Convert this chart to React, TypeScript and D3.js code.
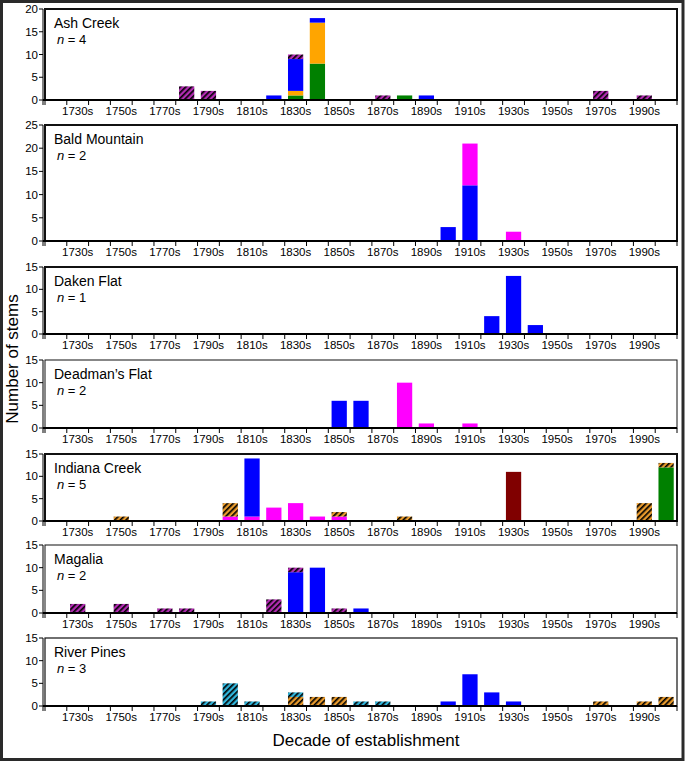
import React from "react";
import * as d3 from "d3";

// ---------- categories & tick labels ----------
const decades = [
  "1720s", "1730s", "1740s", "1750s", "1760s", "1770s", "1780s", "1790s",
  "1800s", "1810s", "1820s", "1830s", "1840s", "1850s", "1860s", "1870s",
  "1880s", "1890s", "1900s", "1910s", "1920s", "1930s", "1940s", "1950s",
  "1960s", "1970s", "1980s", "1990s", "2000s",
];
const xTickLabels = [
  "1730s", "1750s", "1770s", "1790s", "1810s", "1830s", "1850s",
  "1870s", "1890s", "1910s", "1930s", "1950s", "1970s", "1990s",
];

type Pair = [string, number];

// ---------- Ash Creek ----------
const ashGreen: Pair[] = [["1830s", 1], ["1840s", 8], ["1880s", 1]];
const ashOrange: Pair[] = [["1830s", 1], ["1840s", 9]];
const ashBlue: Pair[] = [["1820s", 1], ["1830s", 7], ["1840s", 1], ["1890s", 1]];
const ashPurpleHatch: Pair[] = [
  ["1780s", 3], ["1790s", 2], ["1830s", 1], ["1870s", 1], ["1970s", 2], ["1990s", 1],
];

// ---------- Bald Mountain ----------
const baldBlue: Pair[] = [["1900s", 3], ["1910s", 12]];
const baldMagenta: Pair[] = [["1910s", 9], ["1930s", 2]];

// ---------- Daken Flat ----------
const dakenBlue: Pair[] = [["1920s", 4], ["1930s", 13], ["1940s", 2]];

// ---------- Deadman's Flat ----------
const deadBlue: Pair[] = [["1850s", 6], ["1860s", 6]];
const deadMagenta: Pair[] = [["1880s", 10], ["1890s", 1], ["1910s", 1]];

// ---------- Indiana Creek ----------
const indGreen: Pair[] = [["2000s", 12]];
const indMagenta: Pair[] = [
  ["1800s", 1], ["1810s", 1], ["1820s", 3], ["1830s", 4], ["1840s", 1], ["1850s", 1],
];
const indBlue: Pair[] = [["1810s", 13]];
const indDarkRed: Pair[] = [["1930s", 11]];
const indOrangeHatch: Pair[] = [
  ["1750s", 1], ["1800s", 3], ["1850s", 1], ["1880s", 1], ["1990s", 4], ["2000s", 1],
];

// ---------- Magalia ----------
const magBlue: Pair[] = [["1830s", 9], ["1840s", 10], ["1860s", 1]];
const magPurpleHatch: Pair[] = [
  ["1730s", 2], ["1750s", 2], ["1770s", 1], ["1780s", 1], ["1820s", 3], ["1830s", 1], ["1850s", 1],
];

// ---------- River Pines ----------
const rpOrangeHatch: Pair[] = [
  ["1830s", 2], ["1840s", 2], ["1850s", 2], ["1970s", 1], ["1990s", 1], ["2000s", 2],
];
const rpCyanHatch: Pair[] = [
  ["1790s", 1], ["1800s", 5], ["1810s", 1], ["1830s", 1], ["1860s", 1], ["1870s", 1],
];
const rpBlue: Pair[] = [["1900s", 1], ["1910s", 7], ["1920s", 3], ["1930s", 1]];

// ---------- panels (name, n, y max, stacking order) ----------
const panelNames = ["Ash Creek", "Bald Mountain", "Daken Flat", "Deadman\u2019s Flat", "Indiana Creek", "Magalia", "River Pines"];
const panelN = [4, 2, 1, 2, 5, 2, 3];
const panelYMax = [20, 25, 15, 15, 15, 15, 15];
const panelSeries: { key: string; data: Pair[] }[][] = [
  [
    { key: "green", data: ashGreen },
    { key: "orange", data: ashOrange },
    { key: "blue", data: ashBlue },
    { key: "purpleHatch", data: ashPurpleHatch },
  ],
  [
    { key: "blue", data: baldBlue },
    { key: "magenta", data: baldMagenta },
  ],
  [{ key: "blue", data: dakenBlue }],
  [
    { key: "blue", data: deadBlue },
    { key: "magenta", data: deadMagenta },
  ],
  [
    { key: "green", data: indGreen },
    { key: "magenta", data: indMagenta },
    { key: "blue", data: indBlue },
    { key: "darkRed", data: indDarkRed },
    { key: "orangeHatch", data: indOrangeHatch },
  ],
  [
    { key: "blue", data: magBlue },
    { key: "purpleHatch", data: magPurpleHatch },
  ],
  [
    { key: "orangeHatch", data: rpOrangeHatch },
    { key: "cyanHatch", data: rpCyanHatch },
    { key: "blue", data: rpBlue },
  ],
];

// ---------- layout & styles ----------
const W = 685;
const H = 764;
const plotLeft = 45;
const plotRight = 677;
const panelTops = [9, 125, 267, 360, 454, 545, 638];
const panelBottoms = [100, 241, 334, 428, 521, 613, 706];
const panelStroke = [2, 2, 2, 1, 2, 1, 1.2];

const fills: Record<string, string> = {
  blue: "#0000FF",
  magenta: "#FF00FF",
  orange: "#FFA500",
  green: "#008000",
  darkRed: "#800000",
  purpleHatch: "url(#hatchPurple)",
  orangeHatch: "url(#hatchOrange)",
  cyanHatch: "url(#hatchCyan)",
};

const FONT = "'Liberation Sans', Arial, sans-serif";

const x = d3.scaleBand<string>().domain(decades).range([plotLeft, plotRight]).paddingInner(0.3).paddingOuter(0.15);
const xBoundary = d3.scaleLinear().domain([0, decades.length]).range([plotLeft, plotRight]);

function Panel({ idx }: { idx: number }) {
  const top = panelTops[idx];
  const bottom = panelBottoms[idx];
  const yMax = panelYMax[idx];
  const y = d3.scaleLinear().domain([0, yMax]).range([bottom, top]);
  const series = panelSeries[idx];
  const keys = series.map((s) => s.key);
  const table = decades.map((d) => {
    const row: Record<string, any> = { decade: d };
    series.forEach((s) => {
      const f = s.data.find((p) => p[0] === d);
      row[s.key] = f ? f[1] : 0;
    });
    return row;
  });
  const stacked = d3.stack<Record<string, any>>().keys(keys)(table);
  const yTicks = y.ticks(yMax / 5);
  const sw = panelStroke[idx];
  const boundaries = d3.range(0, decades.length + 1);

  return (
    <g>
      {/* bars */}
      {stacked.map((layer) => (
        <g key={layer.key} fill={fills[layer.key]}>
          {layer.map((seg, i) =>
            seg[1] - seg[0] > 0 ? (
              <rect
                key={i}
                x={x(decades[i])}
                width={x.bandwidth()}
                y={y(seg[1])}
                height={y(seg[0]) - y(seg[1])}
              />
            ) : null
          )}
        </g>
      ))}
      {/* box */}
      <rect
        x={plotLeft}
        y={top}
        width={plotRight - plotLeft}
        height={bottom - top}
        fill="none"
        stroke="#111"
        strokeWidth={sw}
      />
      {/* baseline */}
      <line x1={plotLeft - 2} x2={plotRight} y1={bottom} y2={bottom} stroke="#000" strokeWidth={2} />
      {/* y axis line */}
      <line x1={plotLeft - 2} x2={plotLeft - 2} y1={top} y2={bottom + 5} stroke="#000" strokeWidth={1} />
      {/* y ticks */}
      {yTicks.map((t) => (
        <g key={t}>
          <line x1={plotLeft - 6} x2={plotLeft - 2} y1={y(t)} y2={y(t)} stroke="#000" strokeWidth={1} />
          <text
            x={plotLeft - 7}
            y={y(t)}
            dy="0.35em"
            textAnchor="end"
            fontSize={11.5}
            fontFamily={FONT}
            fill="#000"
          >
            {t}
          </text>
        </g>
      ))}
      {/* x ticks at decade boundaries */}
      {boundaries.map((b) => (
        <line
          key={b}
          x1={xBoundary(b)}
          x2={xBoundary(b)}
          y1={bottom}
          y2={bottom + 5}
          stroke="#000"
          strokeWidth={1}
        />
      ))}
      {xTickLabels.map((l) => (
        <text
          key={l}
          x={(x(l) as number) + x.bandwidth() / 2}
          y={bottom + 15}
          textAnchor="middle"
          fontSize={11.5}
          fontFamily={FONT}
          fill="#000"
        >
          {l}
        </text>
      ))}
      {/* labels */}
      <text x={plotLeft + 9} y={top + 18.5} fontSize={14} fontFamily={FONT} fill="#000">
        {panelNames[idx]}
      </text>
      <text x={plotLeft + 12} y={top + 34.5} fontSize={13} fontFamily={FONT} fill="#000">
        <tspan fontStyle="italic">n</tspan>
        {` = ${panelN[idx]}`}
      </text>
    </g>
  );
}

function Hatch({ id, base }: { id: string; base: string }) {
  return (
    <pattern id={id} width={4} height={4} patternUnits="userSpaceOnUse" patternTransform="rotate(45)">
      <rect width={4} height={4} fill={base} />
      <line x1={0.8} y1={0} x2={0.8} y2={4} stroke="#000" strokeWidth={1.7} />
    </pattern>
  );
}

export default function App() {
  return (
    <svg
      width={W}
      height={H}
      style={{ position: "absolute", left: 0, top: 0, background: "#fff" }}
    >
      <defs>
        <Hatch id="hatchPurple" base="#B22BB2" />
        <Hatch id="hatchOrange" base="#E89A2C" />
        <Hatch id="hatchCyan" base="#2FB4DA" />
      </defs>
      <rect x={0} y={0} width={W} height={H} fill="#fff" />
      <rect x={1.5} y={1.5} width={681.5} height={758} fill="none" stroke="#2a2a2a" strokeWidth={3} />
      {panelNames.map((_, i) => (
        <Panel key={i} idx={i} />
      ))}
      <text
        transform={`translate(18, 359) rotate(-90)`}
        textAnchor="middle"
        fontSize={17}
        fontFamily={FONT}
        fill="#000"
      >
        Number of stems
      </text>
      <text x={366} y={746} textAnchor="middle" fontSize={17} fontFamily={FONT} fill="#000">
        Decade of establishment
      </text>
    </svg>
  );
}
